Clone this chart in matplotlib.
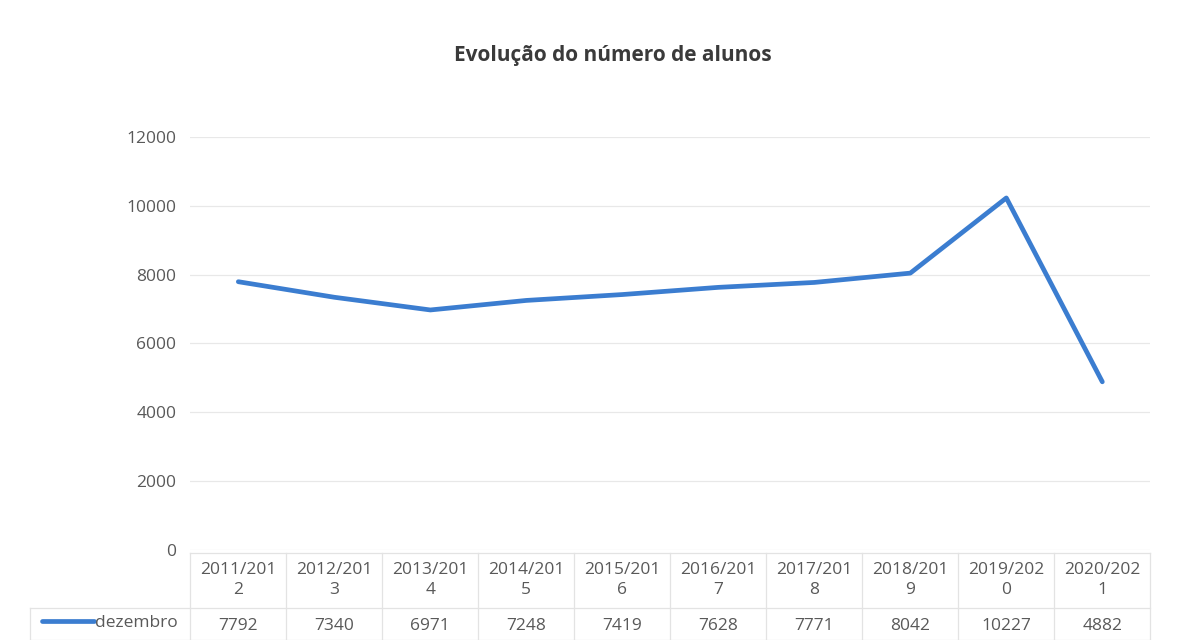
import matplotlib.pyplot as plt
import matplotlib.transforms as mtransforms

plt.rcParams['font.family'] = ['Open Sans', 'DejaVu Sans']

# data
anos = ['2011/201\n2', '2012/201\n3', '2013/201\n4', '2014/201\n5', '2015/201\n6',
        '2016/201\n7', '2017/201\n8', '2018/201\n9', '2019/202\n0', '2020/202\n1']
serie_nome = 'dezembro'
alunos = [7792, 7340, 6971, 7248, 7419, 7628, 7771, 8042, 10227, 4882]
y_ticks = [0, 2000, 4000, 6000, 8000, 10000, 12000]

cor_linha = '#3b7dd0'
cor_texto = '#595959'
cor_borda = '#e3e3e3'

fig = plt.figure(figsize=(11.97, 6.4), dpi=100)
ax = fig.add_axes([0.159, 0.141, 0.802, 0.645])

x = list(range(len(anos)))
ax.plot(x, alunos, color=cor_linha, linewidth=3.4, solid_capstyle='round',
        solid_joinstyle='round')

ax.set_xlim(-0.5, len(anos) - 0.5)
ax.set_ylim(0, 12000)
ax.set_yticks(y_ticks)
ax.set_yticklabels([str(v) for v in y_ticks], fontsize=12.5, color=cor_texto)
ax.tick_params(axis='y', length=0, pad=10)
ax.set_xticks([])
ax.grid(axis='y', color='#e8e8e8', linewidth=0.9)
ax.set_axisbelow(True)
for s in ax.spines.values():
    s.set_visible(False)

fig.suptitle('Evolução do número de alunos', x=0.512, y=0.93,
             fontsize=15, fontweight='bold', color='#3a3a3a')

# data table under the chart (x in data units, y in axes fraction)
tr = mtransforms.blended_transform_factory(ax.transData, ax.transAxes)
y_top, y_mid, y_bot = -0.007, -0.140, -0.218
for i, (ano, v) in enumerate(zip(anos, alunos)):
    ax.text(i, (y_top + y_mid) / 2, ano, transform=tr, ha='center', va='center',
            fontsize=12.5, color=cor_texto, linespacing=1.3, clip_on=False)
    ax.text(i, (y_mid + y_bot) / 2 - 0.005, str(v), transform=tr, ha='center',
            va='center', fontsize=12.5, color=cor_texto, clip_on=False)
for i in range(len(anos) + 1):
    ax.plot([i - 0.5, i - 0.5], [y_top, y_bot], transform=tr, color=cor_borda,
            linewidth=0.9, clip_on=False)
ax.plot([-0.5, len(anos) - 0.5], [y_top, y_top], transform=tr, color=cor_borda,
        linewidth=0.9, clip_on=False)

# row label cell with legend key (axes fraction)
x_esq = -0.167
ax.plot([x_esq, 1], [y_mid, y_mid], transform=ax.transAxes, color=cor_borda,
        linewidth=0.9, clip_on=False)
ax.plot([x_esq, 1], [y_bot, y_bot], transform=ax.transAxes, color=cor_borda,
        linewidth=0.9, clip_on=False)
ax.plot([x_esq, x_esq], [y_mid, y_bot], transform=ax.transAxes, color=cor_borda,
        linewidth=0.9, clip_on=False)
ax.plot([-0.155, -0.1], [-0.172, -0.172], transform=ax.transAxes,
        color=cor_linha, linewidth=3.4, solid_capstyle='round', clip_on=False)
ax.text(-0.099, -0.177, serie_nome, transform=ax.transAxes, ha='left',
        va='center', fontsize=12.5, color=cor_texto, clip_on=False)

fig.savefig('out.png', dpi=100)
